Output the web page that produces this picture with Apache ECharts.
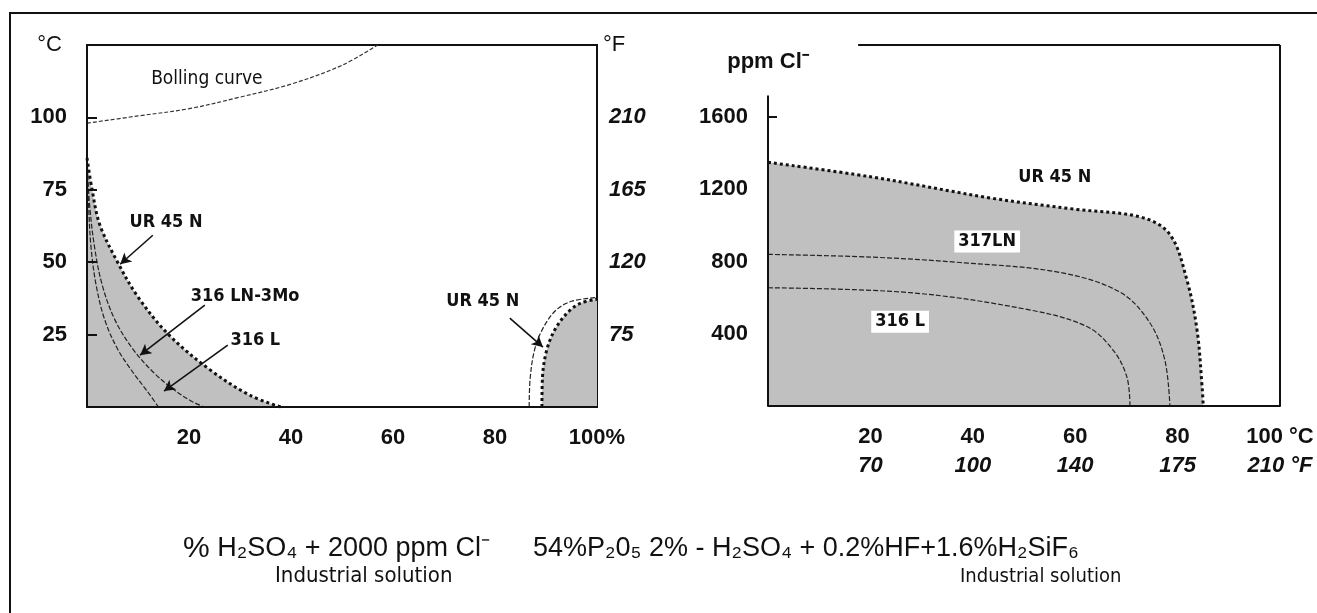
<!DOCTYPE html>
<html>
<head>
<meta charset="utf-8">
<script src="https://cdn.jsdelivr.net/npm/echarts@6/dist/echarts.min.js"></script>
<style>
html, body { margin: 0; padding: 0; background: #fff; }
#m1 { width: 1317px; height: 613px; }
</style>
</head>
<body>
<div id="m1"></div>
<script>
// left chart: % H2SO4 (x) against temperature in °C (y)
var boilingCurve = [[0, 98], [10, 100.5], [20, 103], [30, 107], [40, 111.5], [50, 118], [57, 125]];
var ur45nLow = [[0, 86], [1, 75], [2.5, 63], [6, 50], [10, 38], [16, 25], [24, 13], [32, 4], [38, 0]];
var ln3MoLow = [[0, 85], [0.5, 70], [1.5, 55], [3, 42], [5.5, 30], [9, 20], [13, 12], [17, 6], [20.5, 2], [23, 0]];
var l316Low = [[0, 85], [0.3, 70], [0.8, 55], [1.8, 42], [3.5, 30], [6, 20], [9, 12], [12, 5], [14, 0]];
var ur45nHigh = [[89.2, 0], [89.3, 10], [90.2, 20], [92, 27.5], [94.7, 33.4], [97, 36], [100, 37.2]];
var ur45nHighOuter = [[86.7, 0], [86.9, 10], [87.8, 20], [89.5, 27.5], [92, 33.5], [95, 36.5], [100, 37.8]];
var leftTicksF = { 25: '75', 50: '120', 75: '165', 100: '210' };

// right chart: temperature (x) against ppm Cl- (y)
var ur45nCl = [[0, 1350], [20, 1270], [44, 1150], [60, 1090], [73, 1045], [78.5, 950], [81.8, 700], [83.8, 420], [84.8, 100], [85, 0]];
var ln317Cl = [[0, 840], [20, 825], [37.5, 795], [57, 740], [68.8, 630], [74.6, 460], [77.5, 255], [78.5, 0]];
var l316Cl = [[0, 655], [27.7, 628], [50.6, 535], [62.3, 440], [67.4, 310], [70.1, 160], [70.7, 0]];
var rightTicksC = { 20: '20', 40: '40', 60: '60', 80: '80', 100: '100 °C' };
var rightTicksF = { 20: '70', 40: '100', 60: '140', 80: '175', 100: '210 °F' };
var rightTicksCl = [400, 800, 1200, 1600];

// annotations (data coordinates)
var leftNotes = [
    { text: 'Bolling curve', at: [23.5, 113.4], bold: false },
    { text: 'UR 45 N', at: [15.5, 63.8], bold: true },
    { text: '316 LN-3Mo', at: [31, 38.3], bold: true },
    { text: '316 L', at: [33, 23.1], bold: true },
    { text: 'UR 45 N', at: [77.6, 36.6], bold: true }
];
var leftArrows = [
    [[12.9, 59.3], [6.5, 49.3]],
    [[23.1, 35.2], [10.4, 17.9]],
    [[27.6, 21.4], [15.1, 5.5]],
    [[82.9, 30.7], [89.4, 20.7]]
];
var rightNotes = [
    { text: 'UR 45 N', at: [56, 1267], box: false },
    { text: '317LN', at: [42.8, 911], box: true },
    { text: '316 L', at: [25.8, 467], box: true }
];

var sans = "'Liberation Sans', Arial, sans-serif";
var narrow = "'Liberation Sans Narrow', 'Arial Narrow', 'DejaVu Sans Condensed', sans-serif";
var gray = '#c0c0c0';
var thick = { color: '#111', width: 3, type: 'dotted' };
var thin = { color: '#222', width: 1.2, type: [5, 2] };

function curve(name, data, idx, style, fill) {
    return {
        name: name,
        type: 'line',
        xAxisIndex: idx,
        yAxisIndex: idx,
        data: data,
        smooth: 0.35,
        symbol: 'none',
        lineStyle: style,
        areaStyle: fill ? { color: gray, opacity: 1 } : null,
        z: fill ? 2 : 3
    };
}

function notePoints(list) {
    return list.map(function (n) {
        return {
            coord: n.at,
            symbol: 'rect',
            symbolSize: 1,
            itemStyle: { color: 'rgba(0,0,0,0)' },
            label: {
                show: true,
                position: 'inside',
                formatter: n.text,
                color: '#111',
                fontFamily: narrow,
                fontWeight: n.bold === false ? 'normal' : 'bold',
                fontSize: n.bold === false ? 19 : 18,
                backgroundColor: n.box ? '#fff' : 'transparent',
                padding: n.box ? [2, 4, 2, 4] : 0
            }
        };
    });
}

var myChart = echarts.init(document.getElementById('m1'));

var tickFont = { color: '#111', fontFamily: sans, fontSize: 22, fontWeight: 'bold' };

var option = {
    animation: false,
    grid: [
        { left: 87, top: 45, width: 510, height: 362, outerBoundsMode: 'none', show: true, borderColor: '#111', borderWidth: 2 },
        { left: 768, top: 45, width: 512, height: 361, outerBoundsMode: 'none' }
    ],
    xAxis: [
        {
            gridIndex: 0, type: 'value', min: 0, max: 100, interval: 20, z: 10, position: 'bottom',
            axisLine: { lineStyle: { color: '#111', width: 2 } },
            axisTick: { show: false },
            splitLine: { show: false },
            axisLabel: Object.assign({
                margin: 20,
                formatter: function (v) { return v === 0 ? '' : (v === 100 ? '100%' : v); }
            }, tickFont)
        },
        {
            gridIndex: 1, type: 'value', min: 0, max: 100, interval: 20, z: 10, position: 'bottom',
            axisLine: { lineStyle: { color: '#111', width: 2 } },
            axisTick: { show: false },
            splitLine: { show: false },
            axisLabel: Object.assign({
                margin: 20,
                formatter: function (v) { return rightTicksC[v] || ''; }
            }, tickFont)
        },
        {
            gridIndex: 1, type: 'value', min: 0, max: 100, interval: 20, offset: 29, position: 'bottom',
            axisLine: { show: false },
            axisTick: { show: false },
            splitLine: { show: false },
            axisLabel: Object.assign({}, tickFont, {
                margin: 20,
                fontStyle: 'italic',
                formatter: function (v) { return rightTicksF[v] || ''; }
            })
        }
    ],
    yAxis: [
        {
            gridIndex: 0, type: 'value', min: 0, max: 125, interval: 25, z: 10,
            name: '°C', nameLocation: 'end', nameGap: 0,
            nameTextStyle: { color: '#111', fontFamily: sans, fontSize: 22, align: 'right', verticalAlign: 'middle', padding: [0, 25, 0, 0] },
            axisLine: { lineStyle: { color: '#111', width: 2 } },
            axisTick: { show: true, inside: true, length: 10, lineStyle: { color: '#111', width: 2 } },
            splitLine: { show: false },
            axisLabel: Object.assign({
                margin: 20,
                formatter: function (v) { return (v === 0 || v === 125) ? '' : v; }
            }, tickFont)
        },
        {
            gridIndex: 0, type: 'value', min: 0, max: 125, interval: 25, position: 'right',
            name: '°F', nameLocation: 'end', nameGap: 0,
            nameTextStyle: { color: '#111', fontFamily: sans, fontSize: 22, align: 'left', verticalAlign: 'middle', padding: [0, 0, 0, 6] },
            axisLine: { show: false },
            axisTick: { show: false },
            splitLine: { show: false },
            axisLabel: Object.assign({}, tickFont, {
                margin: 12,
                fontStyle: 'italic',
                formatter: function (v) { return leftTicksF[v] || ''; }
            })
        },
        {
            gridIndex: 1, type: 'value', min: 0, max: 2000, interval: 400, z: 10,
            name: 'ppm Cl⁻', nameLocation: 'end', nameGap: -17,
            nameTextStyle: { color: '#111', fontFamily: sans, fontSize: 22, fontWeight: 'bold', align: 'center', verticalAlign: 'middle' },
            axisLine: { show: false },
            axisTick: { show: true, inside: true, length: 9, customValues: [1600], lineStyle: { color: '#111', width: 2 } },
            splitLine: { show: false },
            axisLabel: Object.assign({
                margin: 20,
                formatter: function (v) { return rightTicksCl.indexOf(v) >= 0 ? v : ''; }
            }, tickFont)
        }
    ],
    series: [
        curve('UR 45 N', ur45nLow, 0, thick, true),
        curve('UR 45 N high', ur45nHigh, 0, thick, true),
        curve('316 LN-3Mo', ln3MoLow, 0, thin, false),
        curve('316 L', l316Low, 0, thin, false),
        curve('UR 45 N outer', ur45nHighOuter, 0, thin, false),
        Object.assign(curve('Boiling curve', boilingCurve, 0, { color: '#333', width: 1.2, type: [4, 2] }, false), {
            z: 4,
            markPoint: { silent: true, data: notePoints(leftNotes) },
            markLine: {
                silent: true,
                symbol: ['none', 'arrow'],
                symbolSize: [9, 11],
                lineStyle: { color: '#111', width: 1.6, type: 'solid' },
                label: { show: false },
                data: leftArrows.map(function (a) { return [{ coord: a[0] }, { coord: a[1] }]; })
            }
        }),
        // right chart
        Object.assign({}, curve('UR 45 N', ur45nCl, 2, thick, true), { xAxisIndex: 1, yAxisIndex: 2 }),
        Object.assign({}, curve('317LN', ln317Cl, 2, thin, false), { xAxisIndex: 1, yAxisIndex: 2 }),
        Object.assign({}, curve('316 L', l316Cl, 2, thin, false), {
            xAxisIndex: 1, yAxisIndex: 2, z: 4,
            markPoint: { silent: true, data: notePoints(rightNotes) },
            markLine: {
                silent: true,
                symbol: 'none',
                lineStyle: { color: '#111', width: 2, type: 'solid' },
                label: { show: false },
                data: [
                    [{ coord: [0, 0] }, { coord: [0, 1720] }],
                    [{ coord: [17.6, 2000] }, { coord: [100, 2000] }],
                    [{ coord: [100, 2000] }, { coord: [100, 0] }]
                ]
            }
        })
    ],
    graphic: [
        {
            type: 'rect', silent: true,
            shape: { x: 10, y: 13, width: 1400, height: 700 },
            style: { fill: null, stroke: '#111', lineWidth: 2 }
        },
        {
            type: 'text', left: 183, top: 534,
            style: {
                text: '{p|%} H₂SO₄ + 2000 ppm Cl⁻',
                fill: '#111', font: '27px ' + sans,
                rich: { p: { fontSize: 30, fontFamily: sans, fill: '#111' } }
            }
        },
        {
            type: 'text', left: 533, top: 535,
            style: { text: '54%P₂0₅ 2% - H₂SO₄ + 0.2%HF+1.6%H₂SiF₆', fill: '#111', font: '27px ' + sans }
        },
        {
            type: 'text', left: 275, top: 565,
            style: { text: 'Industrial solution', fill: '#111', font: '22px ' + narrow }
        },
        {
            type: 'text', left: 960, top: 567,
            style: { text: 'Industrial solution', fill: '#111', font: '20px ' + narrow }
        }
    ]
};

myChart.setOption(option);
</script>
</body>
</html>
